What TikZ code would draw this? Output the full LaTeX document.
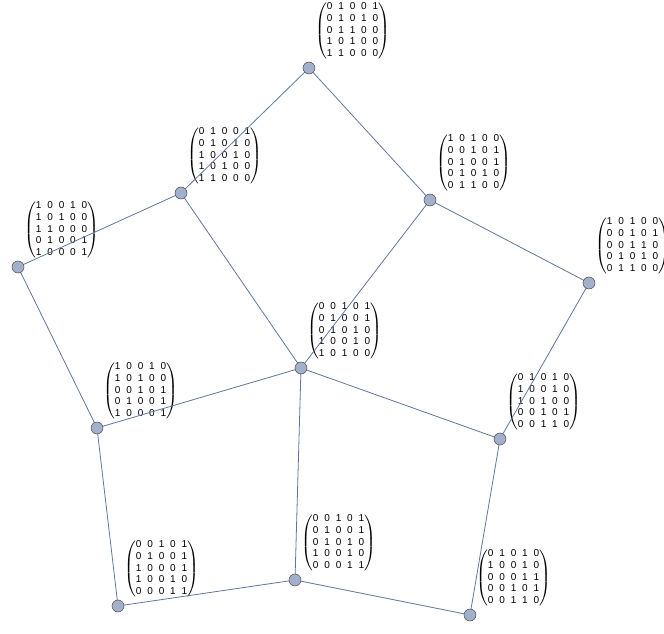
\documentclass[tikz,border=0pt]{standalone}
\usepackage{fontspec}
\setmainfont{Liberation Sans}
\usepackage{tikz}
\usetikzlibrary{calc}

\definecolor{vfill}{RGB}{163,176,204}
\definecolor{ecol}{RGB}{96,118,158}

% one 5x5 matrix label, one argument per row
\newcommand{\mtx}[5]{%
  $\left(\setlength{\tabcolsep}{2.2pt}\renewcommand{\arraystretch}{1}%
  \begin{tabular}{@{}ccccc@{}}#1\\#2\\#3\\#4\\#5\end{tabular}\right)$}

\tikzset{
  vert/.style={circle,draw=black!70,fill=vfill,line width=0.4pt,
    minimum size=9pt,inner sep=0pt},
  edge/.style={ecol,line width=0.6pt},
  mat/.style={anchor=south west,inner sep=0pt,
    font=\fontsize{7.5}{8.7}\selectfont}
}

\begin{document}
\begin{tikzpicture}[x=0.75pt,y=-0.75pt]

\useasboundingbox (0,0) rectangle (664,634);

\coordinate (off) at (6,-8);

\coordinate (p1) at (309,68);
\coordinate (p2) at (181,193);
\coordinate (p3) at (430,200);
\coordinate (p4) at (18,267);
\coordinate (p5) at (589,283);
\coordinate (p6) at (301,368);
\coordinate (p7) at (97,428);
\coordinate (p8) at (500,439);
\coordinate (p9) at (295,580);
\coordinate (p10) at (118,606);
\coordinate (p11) at (470,615);

% matrix labels
\node[mat] (m1) at ($(p1)+(off)$) {\mtx{0&1&0&0&1}{0&1&0&1&0}{0&1&1&0&0}{1&0&1&0&0}{1&1&0&0&0}};
\node[mat] (m2) at ($(p2)+(off)$) {\mtx{0&1&0&0&1}{0&1&0&1&0}{1&0&0&1&0}{1&0&1&0&0}{1&1&0&0&0}};
\node[mat] (m3) at ($(p3)+(off)$) {\mtx{1&0&1&0&0}{0&0&1&0&1}{0&1&0&0&1}{0&1&0&1&0}{0&1&1&0&0}};
\node[mat] (m4) at ($(p4)+(off)$) {\mtx{1&0&0&1&0}{1&0&1&0&0}{1&1&0&0&0}{0&1&0&0&1}{1&0&0&0&1}};
\node[mat] (m5) at ($(p5)+(off)$) {\mtx{1&0&1&0&0}{0&0&1&0&1}{0&0&1&1&0}{0&1&0&1&0}{0&1&1&0&0}};
\node[mat] (m6) at ($(p6)+(off)$) {\mtx{0&0&1&0&1}{0&1&0&0&1}{0&1&0&1&0}{1&0&0&1&0}{1&0&1&0&0}};
\node[mat] (m7) at ($(p7)+(off)$) {\mtx{1&0&0&1&0}{1&0&1&0&0}{0&0&1&0&1}{0&1&0&0&1}{1&0&0&0&1}};
\node[mat] (m8) at ($(p8)+(off)$) {\mtx{0&1&0&1&0}{1&0&0&1&0}{1&0&1&0&0}{0&0&1&0&1}{0&0&1&1&0}};
\node[mat] (m9) at ($(p9)+(off)$) {\mtx{0&0&1&0&1}{0&1&0&0&1}{0&1&0&1&0}{1&0&0&1&0}{0&0&0&1&1}};
\node[mat] (m10) at ($(p10)+(off)$) {\mtx{0&0&1&0&1}{0&1&0&0&1}{1&0&0&0&1}{1&0&0&1&0}{0&0&0&1&1}};
\node[mat] (m11) at ($(p11)+(off)$) {\mtx{0&1&0&1&0}{1&0&0&1&0}{0&0&0&1&1}{0&0&1&0&1}{0&0&1&1&0}};

% edges
\draw[edge] (p1)--(p2);
\draw[edge] (p1)--(p3);
\draw[edge] (p2)--(p4);
\draw[edge] (p2)--(p6);
\draw[edge] (p3)--(p6);
\draw[edge] (p3)--(p5);
\draw[edge] (p4)--(p7);
\draw[edge] (p7)--(p6);
\draw[edge] (p6)--(p8);
\draw[edge] (p5)--(p8);
\draw[edge] (p6)--(p9);
\draw[edge] (p7)--(p10);
\draw[edge] (p10)--(p9);
\draw[edge] (p9)--(p11);
\draw[edge] (p8)--(p11);

% vertices
\foreach \i in {1,...,11}
  \node[vert] (v\i) at (p\i) {};

\end{tikzpicture}
\end{document}
